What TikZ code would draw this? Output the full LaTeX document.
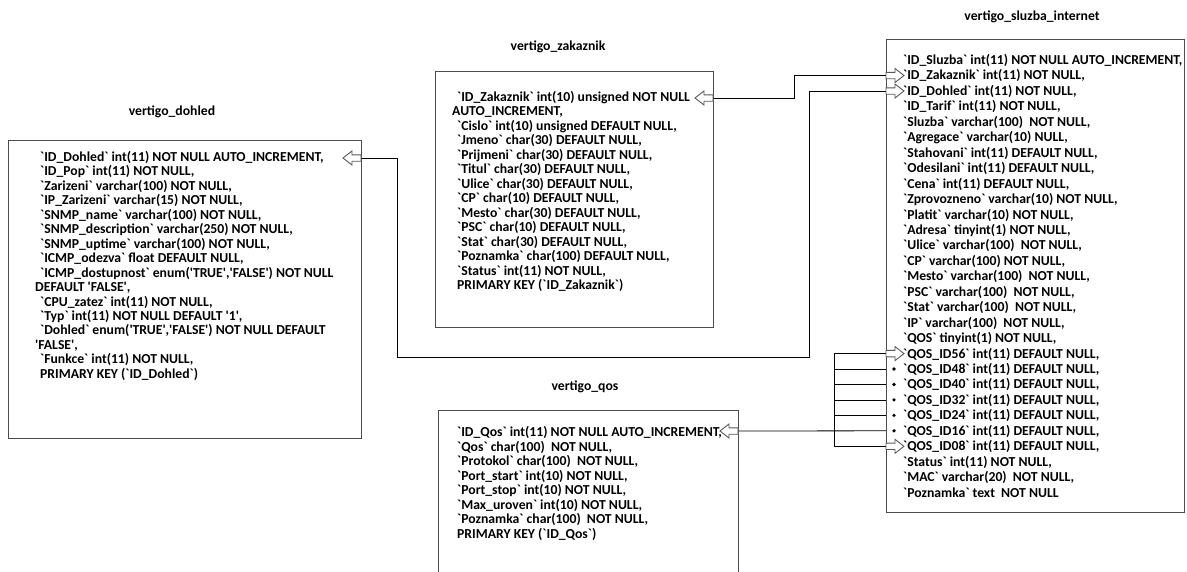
\documentclass[tikz,border=0pt]{standalone}
\usepackage{fontspec}
\setmainfont{Carlito}[Ligatures=TeXOff]
\newcommand\tablefont{\bfseries\fontsize{13.7}{15}\selectfont}
\begin{document}
\begin{tikzpicture}[x=1pt,y=-1pt,
  box/.style={draw=black!70, line width=1.1pt, fill=none, inner sep=0pt, anchor=north west},
  conn/.style={draw=black, line width=0.8pt},
  row/.style={anchor=base west, inner sep=0pt, font=\tablefont},
  ttl/.style={inner sep=0pt, font=\tablefont},
  dot/.style={circle, fill=black, inner sep=0pt, minimum size=3.6pt},
  farr/.pic={\draw[draw=black!65, fill=white, line width=0.9pt] (0,-3.2) -- (9,-3.2) -- (9,-7) -- (18,0) -- (9,7) -- (9,3.2) -- (0,3.2) -- cycle;}]
\useasboundingbox (0,0) rectangle (1187,571);
\fill[white] (0,0) rectangle (1187,571);
\clip (0,0) rectangle (1187,571);

% boxes
\node[box, minimum width=353pt, minimum height=298pt] (dohled) at (8,140) {};
\node[box, minimum width=278pt, minimum height=256pt] (zakaznik) at (435,71) {};
\node[box, minimum width=300pt, minimum height=180pt] (qos) at (438,410) {};
\node[box, minimum width=298pt, minimum height=473pt] (sluzba) at (886,39) {};

% titles
\node[ttl] (tdohled) at (172,112) {vertigo\_dohled};
\node[ttl] (tzakaznik) at (558,47) {vertigo\_zakaznik};
\node[ttl] (tqos) at (585,387) {vertigo\_qos};
\node[ttl] (tsluzba) at (1032,17) {vertigo\_sluzba\_internet};

% dohled rows
\foreach \rowtext [count=\i from 0] in {
 {`ID\_Dohled` int(11) NOT NULL AUTO\_INCREMENT,},
 {`ID\_Pop` int(11) NOT NULL,},
 {`Zarizeni` varchar(100) NOT NULL,},
 {`IP\_Zarizeni` varchar(15) NOT NULL,},
 {`SNMP\_name` varchar(100) NOT NULL,},
 {`SNMP\_description` varchar(250) NOT NULL,},
 {`SNMP\_uptime` varchar(100) NOT NULL,},
 {`ICMP\_odezva` float DEFAULT NULL,},
 {`ICMP\_dostupnost` enum('TRUE','FALSE') NOT NULL},
 {\hspace*{-5pt}DEFAULT 'FALSE',},
 {`CPU\_zatez` int(11) NOT NULL,},
 {`Typ` int(11) NOT NULL DEFAULT '1',},
 {`Dohled` enum('TRUE','FALSE') NOT NULL DEFAULT},
 {\hspace*{-5pt}'FALSE',},
 {`Funkce` int(11) NOT NULL,},
 {PRIMARY KEY (`ID\_Dohled`)}}
 \node[row] (d\i) at (40,{161.5+14.45*\i}) {\rowtext};

% zakaznik rows
\foreach \rowtext [count=\i from 0] in {
 {`ID\_Zakaznik` int(10) unsigned NOT NULL},
 {\hspace*{-5pt}AUTO\_INCREMENT,},
 {`Cislo` int(10) unsigned DEFAULT NULL,},
 {`Jmeno` char(30) DEFAULT NULL,},
 {`Prijmeni` char(30) DEFAULT NULL,},
 {`Titul` char(30) DEFAULT NULL,},
 {`Ulice` char(30) DEFAULT NULL,},
 {`CP` char(10) DEFAULT NULL,},
 {`Mesto` char(30) DEFAULT NULL,},
 {`PSC` char(10) DEFAULT NULL,},
 {`Stat` char(30) DEFAULT NULL,},
 {`Poznamka` char(100) DEFAULT NULL,},
 {`Status` int(11) NOT NULL,},
 {PRIMARY KEY (`ID\_Zakaznik`)}}
 \node[row] (z\i) at (457,{101.5+14.46*\i}) {\rowtext};

% qos rows
\foreach \rowtext [count=\i from 0] in {
 {`ID\_Qos` int(11) NOT NULL AUTO\_INCREMENT,},
 {`Qos` char(100)\ \ NOT NULL,},
 {`Protokol` char(100)\ \ NOT NULL,},
 {`Port\_start` int(10) NOT NULL,},
 {`Port\_stop` int(10) NOT NULL,},
 {`Max\_uroven` int(10) NOT NULL,},
 {`Poznamka` char(100)\ \ NOT NULL,},
 {PRIMARY KEY (`ID\_Qos`)}}
 \node[row] (q\i) at (457,{436.5+14.57*\i}) {\rowtext};

% sluzba rows
\foreach \rowtext [count=\i from 0] in {
 {`ID\_Sluzba` int(11) NOT NULL AUTO\_INCREMENT,},
 {`ID\_Zakaznik` int(11) NOT NULL,},
 {`ID\_Dohled` int(11) NOT NULL,},
 {`ID\_Tarif` int(11) NOT NULL,},
 {`Sluzba` varchar(100)\ \ NOT NULL,},
 {`Agregace` varchar(10) NULL,},
 {`Stahovani` int(11) DEFAULT NULL,},
 {`Odesilani` int(11) DEFAULT NULL,},
 {`Cena` int(11) DEFAULT NULL,},
 {`Zprovozneno` varchar(10) NOT NULL,},
 {`Platit` varchar(10) NOT NULL,},
 {`Adresa` tinyint(1) NOT NULL,},
 {`Ulice` varchar(100)\ \ NOT NULL,},
 {`CP` varchar(100) NOT NULL,},
 {`Mesto` varchar(100)\ \ NOT NULL,},
 {`PSC` varchar(100)\ \ NOT NULL,},
 {`Stat` varchar(100)\ \ NOT NULL,},
 {`IP` varchar(100)\ \ NOT NULL,},
 {`QOS` tinyint(1) NOT NULL,},
 {`QOS\_ID56` int(11) DEFAULT NULL,},
 {`QOS\_ID48` int(11) DEFAULT NULL,},
 {`QOS\_ID40` int(11) DEFAULT NULL,},
 {`QOS\_ID32` int(11) DEFAULT NULL,},
 {`QOS\_ID24` int(11) DEFAULT NULL,},
 {`QOS\_ID16` int(11) DEFAULT NULL,},
 {`QOS\_ID08` int(11) DEFAULT NULL,},
 {`Status` int(11) NOT NULL,},
 {`MAC` varchar(20)\ \ NOT NULL,},
 {`Poznamka` text\ \ NOT NULL}}
 \node[row] (s\i) at (903,{64.5+15.45*\i}) {\rowtext};

% connector end points
\coordinate (dA) at (361,158);
\coordinate (zA) at (713,98);
\coordinate (qA) at (738,431);
\coordinate (sZ) at (886,75.5);
\coordinate (sD) at (886,91);
\coordinate (bus) at (834,0);
\foreach \k/\yy in {56/353.6,48/369,40/384.5,32/399.9,24/415.4,16/430.8,08/446.3}
  \coordinate (sq\k) at (886,\yy);

% connectors
\draw[conn] (dA) -- (397,158) |- (809,357) |- (sD);
\draw[conn] (zA) -- (794,98) |- (sZ);
\draw[conn] (qA) -- (sq16);
\draw[conn] (bus |- sq56) -- (bus |- sq08);
\foreach \k in {56,48,40,32,24,08}
  \draw[conn] (bus |- sq\k) -- (sq\k);

% dots
\foreach \k in {48,40,32,24,16}
  \node[dot] (dot\k) at ([xshift=8pt]sq\k) {};

% hollow arrows
\pic[rotate=180] at (dA) {farr};
\pic[rotate=180] at (zA) {farr};
\pic[rotate=180] at (qA) {farr};
\pic at (sZ) {farr};
\pic at (sD) {farr};
\pic at (sq56) {farr};
\pic at (sq08) {farr};
\end{tikzpicture}
\end{document}
